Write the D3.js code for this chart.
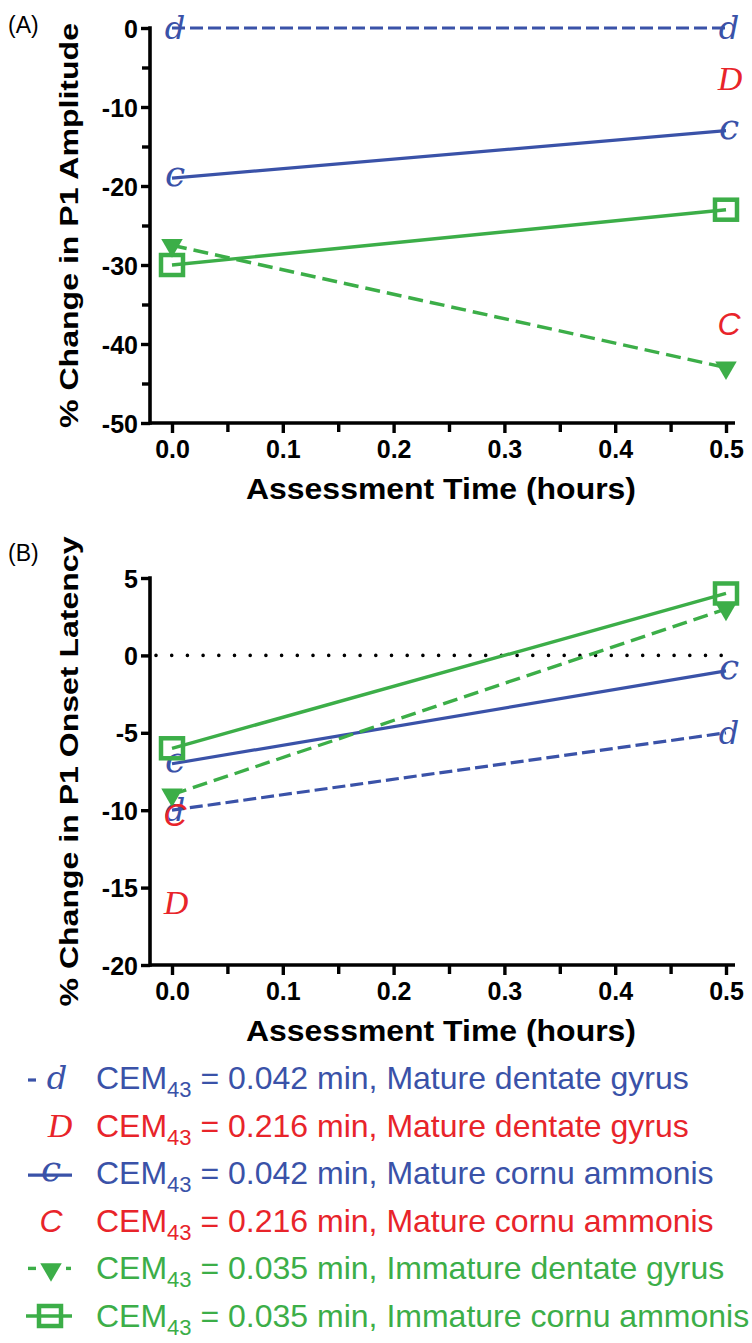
<!DOCTYPE html>
<html><head><meta charset="utf-8">
<script src="https://cdn.jsdelivr.net/npm/d3@7"></script>
<style>body{margin:0;background:#fff} svg{display:block}</style>
</head><body>
<svg id="chart" width="752" height="1343"></svg>
<script>
// ---------- data ----------
const times = [0, 0.5];
const xTicks = [0, 0.1, 0.2, 0.3, 0.4, 0.5];
const xMinorTicks = [0.05, 0.15, 0.25, 0.35, 0.45];
const ampTicks = [0, -10, -20, -30, -40, -50];
const ampMinorTicks = [-5, -15, -25, -35, -45];
const latTicks = [5, 0, -5, -10, -15, -20];

const seriesKeys = ["dg042", "dg216", "ca042", "ca216", "idg035", "ica035"];
const legendCem = ["0.042", "0.216", "0.042", "0.216", "0.035", "0.035"];
const legendRegion = ["Mature dentate gyrus", "Mature dentate gyrus", "Mature cornu ammonis",
                      "Mature cornu ammonis", "Immature dentate gyrus", "Immature cornu ammonis"];

// Panel A: % change in P1 amplitude (null = not shown)
const ampDG042 = [0, 0];
const ampDG216 = [null, -6.5];
const ampCA042 = [-19, -13];
const ampCA216 = [null, -37.5];
const ampIDG035 = [-27.5, -43];
const ampICA035 = [-30, -23];

// Panel B: % change in P1 onset latency
const latDG042 = [-10, -5];
const latDG216 = [-16, null];
const latCA042 = [-7, -1];
const latCA216 = [-10.3, null];
const latIDG035 = [-9, 3];
const latICA035 = [-6, 4];

// ---------- styles ----------
const BLUE = "#3a52a8", RED = "#e8242a", GREEN = "#3cae48";
const styles = {
  dg042:  {color: BLUE,  line: true,  dash: "13,5", width: 3.2, marker: "d"},
  dg216:  {color: RED,   line: false, marker: "D"},
  ca042:  {color: BLUE,  line: true,  dash: null, width: 3.2, marker: "c"},
  ca216:  {color: RED,   line: false, marker: "C"},
  idg035: {color: GREEN, line: true,  dash: "15,7", width: 3.4, marker: "tri"},
  ica035: {color: GREEN, line: true,  dash: null, width: 3.4, marker: "sq"}
};
const glyphFont = {
  d: {family: "DejaVu Serif", size: 32, style: "italic", weight: "normal", dx: 3, dy: 11},
  D: {family: "Liberation Serif", size: 34, style: "italic", weight: "normal", dx: 4, dy: 11},
  c: {family: "DejaVu Serif", size: 36, style: "italic", weight: "normal", dx: 3, dy: 8},
  C: {family: "Liberation Sans", size: 32, style: "italic", weight: "normal", dx: 3, dy: 11}
};

const svg = d3.select("#chart");
const FONT = "'Liberation Sans', Arial, sans-serif";
const hyphenFmt = d => String(d);

function drawPanel(opts) {
  const g = svg.append("g");
  const x = d3.scaleLinear().domain([0, 0.5]).range([172, 726]);
  const y = d3.scaleLinear().domain(opts.yDomain).range(opts.yRange);
  const axisLeftX = 150, axisRightX = 735;
  const yBottom = opts.yRange[0], yTop = opts.yRange[1];

  // axes
  const xa = g.append("g").attr("transform", `translate(0,${yBottom})`)
    .call(d3.axisBottom(x).tickValues(xTicks).tickSize(10).tickSizeOuter(0)
      .tickPadding(6).tickFormat(d3.format(".1f")));
  g.append("g").attr("transform", `translate(0,${yBottom})`)
    .call(d3.axisBottom(x).tickValues(xMinorTicks).tickSize(9).tickFormat(""));
  const ya = g.append("g").attr("transform", `translate(${axisLeftX},0)`)
    .call(d3.axisLeft(y).tickValues(opts.yTicks).tickSize(9).tickSizeOuter(0)
      .tickPadding(3).tickFormat(hyphenFmt));
  if (opts.yMinor) {
    g.append("g").attr("transform", `translate(${axisLeftX},0)`)
      .call(d3.axisLeft(y).tickValues(opts.yMinor).tickSize(8).tickFormat(""));
  }
  g.selectAll(".domain").remove();
  g.selectAll(".tick line").attr("stroke", "#000").attr("stroke-width", 3.4);
  g.selectAll(".tick text").attr("fill", "#000").style("font-family", FONT)
    .style("font-weight", "bold").style("font-size", "25px");
  ya.selectAll(".tick text").attr("dy", "0.36em");
  xa.selectAll(".tick text").attr("dy", "0.74em");
  // axis lines
  g.append("line").attr("x1", axisLeftX).attr("x2", axisLeftX)
    .attr("y1", yTop - 1.7).attr("y2", yBottom + 1.7).attr("stroke", "#000").attr("stroke-width", 3.6);
  g.append("line").attr("x1", axisLeftX).attr("x2", axisRightX)
    .attr("y1", yBottom).attr("y2", yBottom).attr("stroke", "#000").attr("stroke-width", 3.6);

  // zero reference line
  if (opts.zeroLine) {
    g.append("line").attr("x1", axisLeftX + 6).attr("x2", axisRightX)
      .attr("y1", y(0)).attr("y2", y(0)).attr("stroke", "#000").attr("stroke-width", 3.6)
      .attr("stroke-linecap", "round").attr("stroke-dasharray", "0,15.7");
  }

  // titles
  g.append("text").attr("x", 8).attr("y", opts.labelY).text(opts.label)
    .style("font-family", FONT).style("font-size", "23px").attr("fill", "#000");
  g.append("text")
    .attr("transform", `translate(${78},${(yTop + yBottom) / 2}) rotate(-90)`)
    .attr("text-anchor", "middle").text(opts.yTitle)
    .attr("textLength", opts.yTitleLen).attr("lengthAdjust", "spacingAndGlyphs")
    .style("font-family", FONT).style("font-weight", "bold").style("font-size", "26px");
  g.append("text").attr("x", 441).attr("y", yBottom + 76).attr("text-anchor", "middle")
    .text("Assessment Time (hours)").attr("textLength", 390).attr("lengthAdjust", "spacingAndGlyphs")
    .style("font-family", FONT).style("font-weight", "bold").style("font-size", "29px");

  // lines
  const lineGen = d3.line().defined(d => d.v !== null).x(d => x(d.t)).y(d => y(d.v));
  const order = ["dg042", "ca042", "ica035", "idg035", "dg216", "ca216"];
  order.forEach(k => {
    const st = styles[k];
    const pts = times.map((t, i) => ({t, v: opts.data[k][i]}));
    if (st.line && pts.every(p => p.v !== null)) {
      g.append("path").datum(pts).attr("d", lineGen).attr("fill", "none")
        .attr("stroke", st.color).attr("stroke-width", st.width)
        .attr("stroke-dasharray", st.dash);
    }
  });
  order.forEach(k => {
    const st = styles[k];
    times.forEach((t, i) => {
      const v = opts.data[k][i];
      if (v === null) return;
      drawMarker(g, st.marker, st.color, x(t), y(v));
    });
  });
}

function drawMarker(g, type, color, cx, cy) {
  if (type === "tri") {
    g.append("path").attr("transform", `translate(${cx},${cy}) rotate(180)`)
      .attr("d", d3.symbol().type(d3.symbolTriangle).size(200)()).attr("fill", color);
  } else if (type === "sq") {
    g.append("rect").attr("x", cx - 11).attr("y", cy - 10).attr("width", 22).attr("height", 20)
      .attr("fill", "none").attr("stroke", color).attr("stroke-width", 4.5);
  } else {
    const f = glyphFont[type];
    g.append("text").attr("x", cx + f.dx).attr("y", cy + f.dy).attr("text-anchor", "middle")
      .text(type).attr("fill", color)
      .style("font-family", f.family).style("font-size", f.size + "px")
      .style("font-style", f.style).style("font-weight", f.weight);
  }
}

drawPanel({
  label: "(A)", labelY: 33,
  yDomain: [-50, 0], yRange: [423, 28], yTicks: ampTicks, yMinor: ampMinorTicks,
  yTitle: "% Change in P1 Amplitude", yTitleLen: 405, zeroLine: false,
  data: {dg042: ampDG042, dg216: ampDG216, ca042: ampCA042, ca216: ampCA216, idg035: ampIDG035, ica035: ampICA035}
});
drawPanel({
  label: "(B)", labelY: 561,
  yDomain: [-20, 5], yRange: [965, 578], yTicks: latTicks, yMinor: null,
  yTitle: "% Change in P1 Onset Latency", yTitleLen: 470, zeroLine: true,
  data: {dg042: latDG042, dg216: latDG216, ca042: latCA042, ca216: latCA216, idg035: latIDG035, ica035: latICA035}
});

// ---------- legend ----------
const leg = svg.append("g");
const rowY = d3.scaleLinear().domain([0, 5]).range([1078, 1316]);
seriesKeys.forEach((k, i) => {
  const st = styles[k];
  const cy = rowY(i);
  const r = leg.append("g");
  if (st.marker === "d") {
    r.append("line").attr("x1", 28).attr("x2", 36).attr("y1", cy + 2).attr("y2", cy + 2)
      .attr("stroke", st.color).attr("stroke-width", 3.2);
    drawMarker(r, "d", st.color, 54, cy);
  } else if (st.marker === "c") {
    r.append("line").attr("x1", 28).attr("x2", 72).attr("y1", cy + 2).attr("y2", cy + 2)
      .attr("stroke", st.color).attr("stroke-width", 3.2);
    drawMarker(r, "c", st.color, 48, cy);
  } else if (st.marker === "tri") {
    r.append("line").attr("x1", 28).attr("x2", 36).attr("y1", cy).attr("y2", cy)
      .attr("stroke", st.color).attr("stroke-width", 3.4);
    r.append("line").attr("x1", 66).attr("x2", 71).attr("y1", cy).attr("y2", cy)
      .attr("stroke", st.color).attr("stroke-width", 3.4);
    drawMarker(r, "tri", st.color, 51, cy + 1);
  } else if (st.marker === "sq") {
    r.append("line").attr("x1", 26).attr("x2", 72).attr("y1", cy).attr("y2", cy)
      .attr("stroke", st.color).attr("stroke-width", 3.4);
    drawMarker(r, "sq", st.color, 50, cy);
  } else {
    drawMarker(r, st.marker, st.color, st.marker === "D" ? 56 : 48, cy);
  }
  const t = r.append("text").attr("x", 96).attr("y", cy + 11).attr("fill", st.color)
    .style("font-family", FONT).style("font-size", "32px");
  t.append("tspan").text("CEM");
  t.append("tspan").attr("dy", 8).style("font-size", "22px").text("43");
  t.append("tspan").attr("dy", -8).text(` = ${legendCem[i]} min, ${legendRegion[i]}`);
});
</script>
</body></html>
